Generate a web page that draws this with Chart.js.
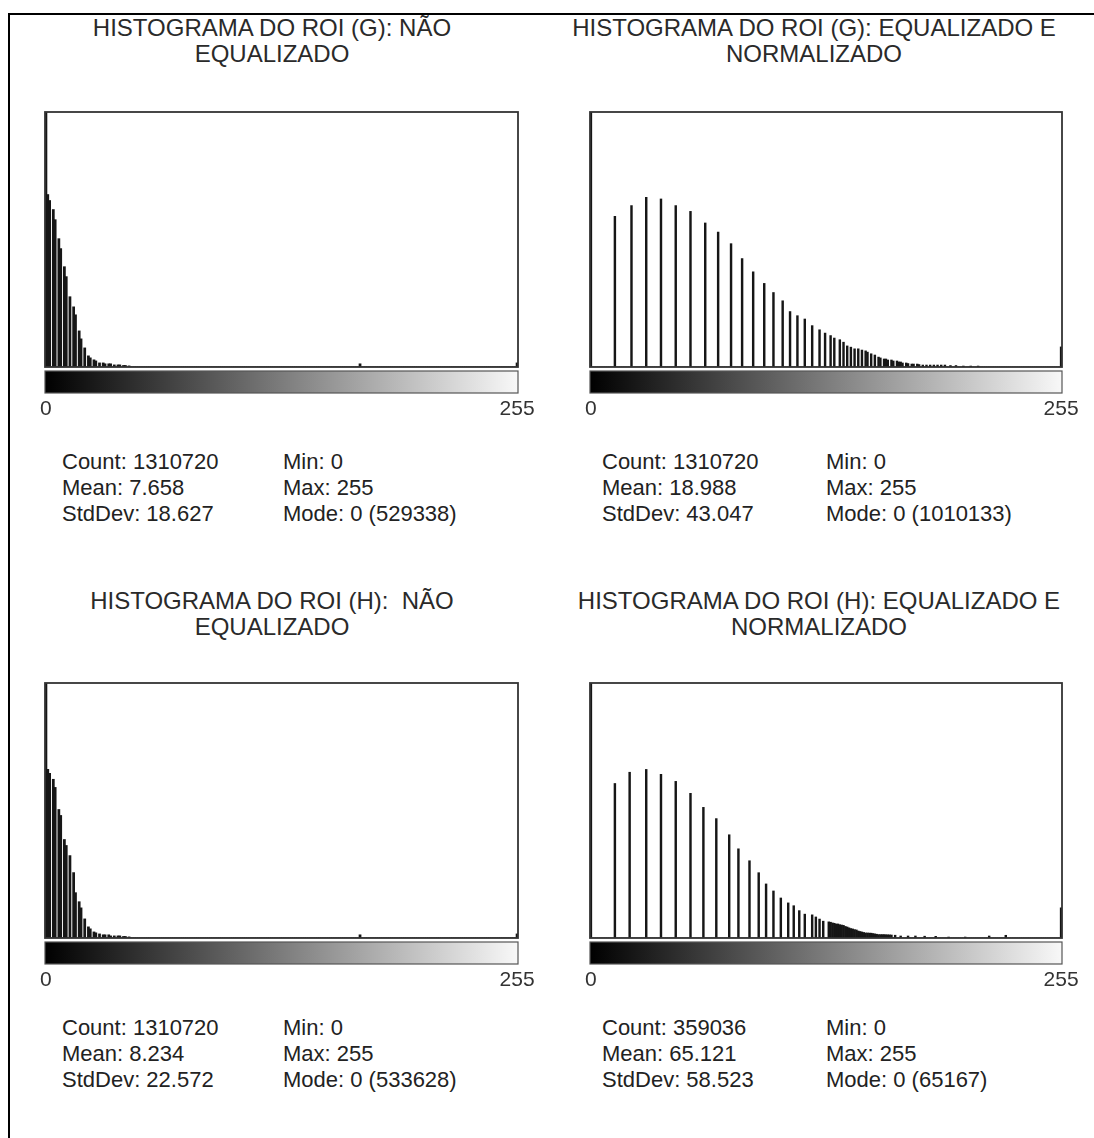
<!DOCTYPE html>
<html lang="pt">
<head>
<meta charset="utf-8">
<title>Histogramas do ROI</title>
<script src="https://cdn.jsdelivr.net/npm/chart.js@4.4.1/dist/chart.umd.min.js"></script>
<style>
  html, body { margin: 0; padding: 0; background: #fff; }
  body {
    width: 1094px; height: 1138px; position: relative; overflow: hidden;
    font-family: "Liberation Sans", Arial, sans-serif; color: #222;
  }
  .frame {
    position: absolute; left: 8px; top: 13px; right: -10px; bottom: -10px;
    border-left: 2px solid #000; border-top: 2px solid #000;
  }
  .title {
    position: absolute; width: 600px; text-align: center;
    font-size: 24px; line-height: 26px; white-space: pre; color: #2a2a2a;
  }
  .stats {
    position: absolute; font-size: 22px; line-height: 26px; white-space: pre; color: #222;
  }
  .panel { position: absolute; }
</style>
</head>
<body>
<div class="frame"></div>

<div class="title" id="title-g-raw" style="left:-28px; top:15px;"></div>
<div class="title" id="title-g-eq" style="left:514px; top:15px;"></div>
<div class="title" id="title-h-raw" style="left:-28px; top:588px;"></div>
<div class="title" id="title-h-eq" style="left:519px; top:588px;"></div>

<div class="panel" style="left:25px; top:107px;"><canvas id="hist-g-raw" width="518" height="320"></canvas></div>
<div class="panel" style="left:570px; top:107px;"><canvas id="hist-g-eq" width="517" height="320"></canvas></div>
<div class="panel" style="left:25px; top:678px;"><canvas id="hist-h-raw" width="518" height="320"></canvas></div>
<div class="panel" style="left:570px; top:678px;"><canvas id="hist-h-eq" width="517" height="320"></canvas></div>

<div class="stats" id="stats-g-raw-a" style="left:62px; top:449px;"></div>
<div class="stats" id="stats-g-raw-b" style="left:283px; top:449px;"></div>
<div class="stats" id="stats-g-eq-a" style="left:602px; top:449px;"></div>
<div class="stats" id="stats-g-eq-b" style="left:826px; top:449px;"></div>
<div class="stats" id="stats-h-raw-a" style="left:62px; top:1015px;"></div>
<div class="stats" id="stats-h-raw-b" style="left:283px; top:1015px;"></div>
<div class="stats" id="stats-h-eq-a" style="left:602px; top:1015px;"></div>
<div class="stats" id="stats-h-eq-b" style="left:826px; top:1015px;"></div>

<script>
// Gray levels 0..255 (one bar per level) and the two levels labelled under the LUT bar
const grayLevels = Array.from({ length: 256 }, (_, i) => String(i));
const xTickLevels = [0, 255];

// ROI (G), not equalized: non-empty bins and their pixel counts
const gRawBins   = [0, 1, 2, 4, 5, 7, 8, 10, 11, 13, 15, 16, 18, 19, 21, 23, 24, 26, 27, 29,
                    31, 32, 34, 35, 37, 39, 40, 42, 43, 45, 170, 255];
const gRawCounts = [529338, 95300, 92000, 87000, 81400, 70900, 65400, 55400, 49900, 38800,
                    33200, 28800, 19900, 15500, 10500, 6100, 5000, 3900, 3300, 2200,
                    2200, 1700, 1700, 1700, 1100, 1100, 1100, 800, 800, 550, 1700, 2200];
const gRawMax = 141000;

// ROI (G), equalized and normalized
const gEqBins   = [0, 13, 22, 30, 38, 46, 54, 62, 69, 76, 82, 88, 94, 99, 104, 108, 112, 116, 120, 124,
                   127, 130, 132, 135, 137, 139, 141, 143, 145, 147, 149, 150, 152, 154, 156, 157, 159, 160, 161, 163,
                   164, 166, 167, 168, 169, 171, 172, 174, 175, 177, 178, 180, 182, 184, 186, 188, 190, 192, 195, 198,
                   202, 206, 210, 255];
const gEqCounts = [1010133, 18200, 19500, 20500, 20300, 19500, 18800, 17400, 16300, 14900,
                   13100, 11500, 10100, 9000, 8000, 6700, 6200, 5800, 5000, 4500,
                   4100, 3800, 3500, 3300, 3000, 2550, 2400, 2200, 2200, 2050,
                   1950, 1800, 1600, 1450, 1200, 1100, 970, 970, 850, 850,
                   730, 730, 610, 610, 490, 490, 420, 360, 360, 360,
                   300, 240, 240, 240, 240, 240, 240, 240, 180, 180,
                   120, 120, 120, 2430];
const gEqMax = 30800;

// ROI (H), not equalized
const hRawBins   = [0, 1, 2, 4, 5, 7, 8, 10, 11, 13, 15, 16, 18, 19, 21, 23, 24, 26, 27, 29,
                    31, 32, 34, 35, 37, 39, 40, 42, 43, 45, 170, 255];
const hRawCounts = [533628, 93200, 91000, 87700, 83200, 71000, 67700, 54400, 51100, 45500,
                    36100, 25000, 20000, 16600, 10500, 6100, 5000, 3300, 2800, 2200,
                    1700, 1700, 1700, 1100, 1100, 1100, 1100, 800, 800, 550, 1700, 2200];
const hRawMax = 141000;

// ROI (H), equalized and normalized
const hEqBins   = [0, 13, 21, 30, 38, 46, 54, 61, 68, 75, 80, 86, 91, 95, 99, 103, 107, 110, 113, 116,
                   120, 122, 124, 126, 129, 130, 131, 132, 133, 134, 135, 136, 137, 138, 139, 140, 141, 142, 143, 144,
                   145, 146, 147, 148, 149, 150, 151, 152, 153, 154, 155, 156, 157, 158, 159, 160, 161, 162, 163, 165,
                   168, 172, 176, 181, 187, 194, 203, 216, 225, 255];
const hEqCounts = [65167, 22000, 23600, 24000, 23300, 22300, 20600, 18600, 17000, 14700,
                   12700, 11000, 9300, 7700, 6700, 5700, 5000, 4600, 3900, 3400,
                   3300, 3000, 2700, 2400, 2300, 2250, 2150, 2100, 2000, 2000,
                   1900, 1850, 1800, 1650, 1570, 1450, 1350, 1290, 1200, 1150,
                   1000, 930, 860, 790, 720, 720, 700, 690, 640, 590,
                   540, 490, 490, 490, 490, 470, 460, 450, 430, 400,
                   290, 290, 290, 260, 240, 140, 140, 290, 390, 4300];
const hEqMax = 36300;

// Summary statistics printed under each histogram
const gRawStats = { count: '1310720', mean: '7.658', stdDev: '18.627', min: '0', max: '255' };
const gEqStats  = { count: '1310720', mean: '18.988', stdDev: '43.047', min: '0', max: '255' };
const hRawStats = { count: '1310720', mean: '8.234', stdDev: '22.572', min: '0', max: '255' };
const hEqStats  = { count: '359036', mean: '65.121', stdDev: '58.523', min: '0', max: '255' };

(function() {
    'use strict';

    // Frame around the plot area and the black-to-white LUT strip underneath it
    const lutBarPlugin = {
        id: 'lutBar',
        afterDatasetsDraw(chart) {
            const ctx = chart.ctx;
            const a = chart.chartArea;
            const w = a.right - a.left;
            ctx.save();
            ctx.strokeStyle = '#333';
            ctx.lineWidth = 1.8;
            ctx.strokeRect(a.left, a.top, w, a.bottom - a.top);

            const grad = ctx.createLinearGradient(a.left, 0, a.right, 0);
            grad.addColorStop(0, '#000000');
            grad.addColorStop(1, '#f8f8f8');
            ctx.fillStyle = grad;
            ctx.fillRect(a.left, a.bottom + 4, w, 22);
            ctx.lineWidth = 1.2;
            ctx.strokeStyle = '#555';
            ctx.strokeRect(a.left, a.bottom + 4, w, 22);
            ctx.restore();
        }
    };

    // widen: extra px per side so neighbouring bins merge into a solid mass
    function drawHistogram(canvasId, bins, counts, yMax, widen) {
        const values = new Array(grayLevels.length).fill(0);
        bins.forEach(function(b, i) { values[b] = counts[i]; });

        return new Chart(document.getElementById(canvasId), {
            type: 'bar',
            data: {
                labels: grayLevels,
                datasets: [{
                    data: values,
                    backgroundColor: '#161616',
                    borderWidth: 0,
                    barPercentage: 1,
                    categoryPercentage: 1,
                    inflateAmount: widen
                }]
            },
            options: {
                responsive: false,
                animation: false,
                events: [],
                layout: {
                    padding: { left: 20, right: 25, top: 5, bottom: 0 }
                },
                plugins: {
                    legend: { display: false },
                    tooltip: { enabled: false }
                },
                scales: {
                    x: {
                        grid: { display: false, drawTicks: false },
                        border: { display: false },
                        ticks: {
                            autoSkip: false,
                            maxRotation: 0,
                            minRotation: 0,
                            padding: 30,
                            color: '#333',
                            font: { family: 'Liberation Sans', size: 21 },
                            callback: function(value, index) {
                                return xTickLevels.includes(index) ? grayLevels[index] : null;
                            }
                        },
                        // fixed axis band; the tick padding must not eat into the plot width
                        afterFit: function(scale) {
                            scale.height = 60;
                            scale.paddingLeft = 0;
                            scale.paddingRight = 0;
                        }
                    },
                    y: {
                        display: false,
                        min: 0,
                        max: yMax
                    }
                }
            },
            plugins: [lutBarPlugin]
        });
    }

    function fillText(id, lines) {
        document.getElementById(id).textContent = lines.join('\n');
    }

    function fillStats(prefix, stats, counts) {
        fillText(prefix + '-a', ['Count: ' + stats.count, 'Mean: ' + stats.mean, 'StdDev: ' + stats.stdDev]);
        // the mode is gray level 0, its count comes from the histogram itself
        fillText(prefix + '-b', ['Min: ' + stats.min, 'Max: ' + stats.max, 'Mode: 0 (' + counts[0] + ')']);
    }

    fillText('title-g-raw', ['HISTOGRAMA DO ROI (G): NÃO', 'EQUALIZADO']);
    fillText('title-g-eq', ['HISTOGRAMA DO ROI (G): EQUALIZADO E', 'NORMALIZADO']);
    fillText('title-h-raw', ['HISTOGRAMA DO ROI (H):  NÃO', 'EQUALIZADO']);
    fillText('title-h-eq', ['HISTOGRAMA DO ROI (H): EQUALIZADO E', 'NORMALIZADO']);

    drawHistogram('hist-g-raw', gRawBins, gRawCounts, gRawMax, 0.45);
    drawHistogram('hist-g-eq', gEqBins, gEqCounts, gEqMax, 0.3);
    drawHistogram('hist-h-raw', hRawBins, hRawCounts, hRawMax, 0.45);
    drawHistogram('hist-h-eq', hEqBins, hEqCounts, hEqMax, 0.3);

    fillStats('stats-g-raw', gRawStats, gRawCounts);
    fillStats('stats-g-eq', gEqStats, gEqCounts);
    fillStats('stats-h-raw', hRawStats, hRawCounts);
    fillStats('stats-h-eq', hEqStats, hEqCounts);
})();
</script>
</body>
</html>
